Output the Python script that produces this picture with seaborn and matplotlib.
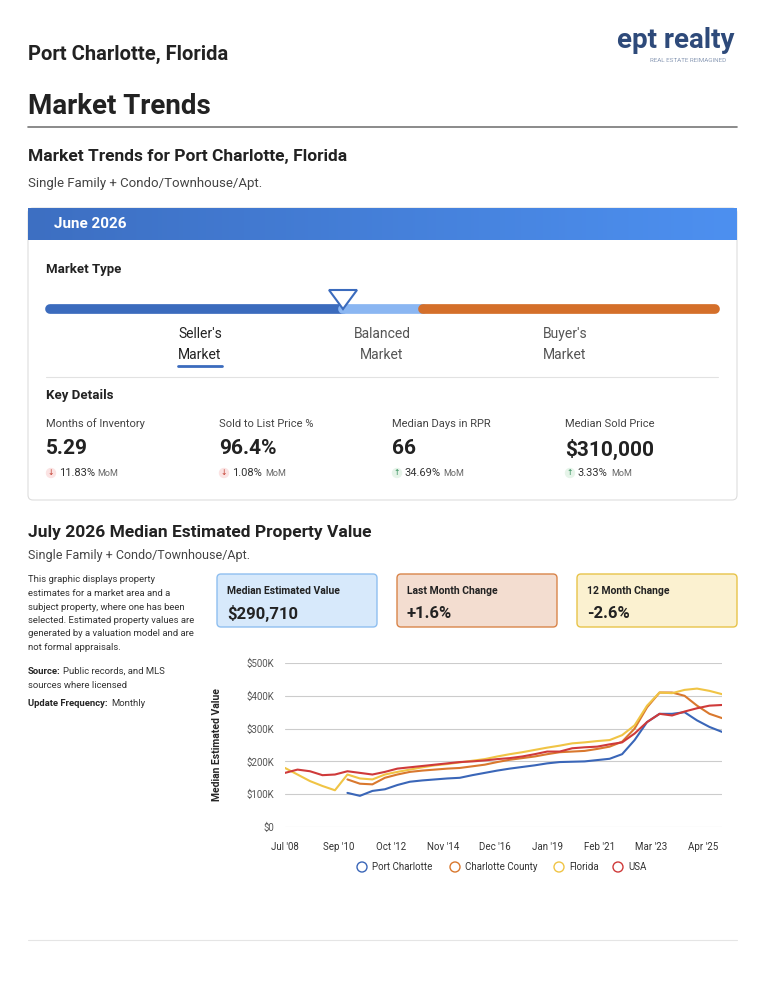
import numpy as np
import pandas as pd
import matplotlib
matplotlib.use("Agg")
import matplotlib.pyplot as plt
import seaborn as sns
from matplotlib.patches import FancyBboxPatch, Rectangle, Polygon
from matplotlib.colors import LinearSegmentedColormap

sns.set_theme(style="white")
plt.rcParams['font.family'] = ['Roboto', 'DejaVu Sans']

months = list(range(0, 211, 6))
nan = np.nan
usa = [165, 175, 170, 158, 160, 170, 165, 160, 168, 178, 182, 186, 190, 194, 198, 200, 203, 207,
       210, 215, 222, 230, 230, 240, 243, 245, 252, 258, 285, 320, 345, 340, 352, 362, 370, 372]
florida = [180, 160, 140, 125, 112, 160, 148, 145, 160, 168, 175, 182, 188, 192, 197, 202, 207, 215,
           222, 228, 235, 242, 248, 255, 258, 262, 265, 280, 310, 370, 410, 408, 418, 422, 415, 405]
county = [nan, nan, nan, nan, nan, 145, 132, 130, 150, 160, 168, 172, 175, 178, 180, 185, 190, 198,
          205, 210, 215, 222, 228, 230, 232, 238, 245, 260, 300, 365, 410, 410, 400, 370, 345, 332]
port = [nan, nan, nan, nan, nan, 104, 95, 110, 115, 128, 138, 142, 145, 148, 150, 158, 165, 172,
        178, 183, 188, 194, 198, 199, 200, 204, 208, 222, 265, 320, 345, 345, 350, 325, 305, 290]
series_names = ["Port Charlotte", "Charlotte County", "Florida", "USA"]
colors = ["#3a66b8", "#d9782e", "#f0c445", "#cf3a3a"]
tick_months = [0, 26, 51, 76, 101, 126, 151, 176, 201]
tick_labels = ["Jul '08", "Sep '10", "Oct '12", "Nov '14", "Dec '16", "Jan '19", "Feb '21", "Mar '23", "Apr '25"]

df = pd.concat([pd.DataFrame({"month": months, "value": np.array(v, dtype=float) * 1000, "series": n})
                for n, v in zip(series_names, [port, county, florida, usa])], ignore_index=True)

W, H = 765, 990
fig = plt.figure(figsize=(7.65, 9.9), dpi=100)
bg = fig.add_axes([0, 0, 1, 1])
bg.set_xlim(0, W); bg.set_ylim(H, 0); bg.axis("off")

def T(x, y, s, size, color="#222222", weight="normal", ha="left", va="center"):
    bg.text(x, y, s, fontsize=size, color=color, fontweight=weight, ha=ha, va=va)

T(28, 54, "Port Charlotte, Florida", 14.5, weight="bold")
T(735, 40, "ept realty", 20, color="#2e4a7a", weight="bold", ha="right")
T(726, 60, "REAL ESTATE REIMAGINED", 4.5, color="#8a9ab5", ha="right")
T(28, 106, "Market Trends", 20, weight="bold")
bg.plot([28, 737], [127, 127], color="#777777", lw=1.2)
T(28, 156, "Market Trends for Port Charlotte, Florida", 12.5, weight="bold")
T(28, 184, "Single Family + Condo/Townhouse/Apt.", 9.5, color="#444444")

bg.add_patch(FancyBboxPatch((28, 208), 709, 292, boxstyle="round,pad=0,rounding_size=5",
                            fc="white", ec="#dddddd", lw=0.8))
grad = np.linspace(0, 1, 256).reshape(1, -1)
cm = LinearSegmentedColormap.from_list("g", ["#3d6fc2", "#4d90f0"])
bg.imshow(grad, extent=(28, 737, 240, 208), cmap=cm, aspect="auto", zorder=1)
bg.set_xlim(0, W); bg.set_ylim(H, 0)
T(54, 224, "June 2026", 11, color="white", weight="bold")
T(46, 269, "Market Type", 9.5, weight="bold")
bg.plot([50, 343], [309, 309], color="#3b6bbd", lw=7, solid_capstyle="round")
bg.plot([343, 423], [309, 309], color="#8ab6f2", lw=7)
bg.plot([423, 715], [309, 309], color="#d46f2a", lw=7, solid_capstyle="round")
bg.add_patch(Polygon([[329, 290], [357, 290], [343, 309]], closed=True, fc="white", ec="#3b6bbd", lw=1.5, zorder=5))
T(200, 334, "Seller's", 10, ha="center"); T(200, 355, "Market", 10, ha="center")
bg.plot([178, 222], [366, 366], color="#3b6bbd", lw=2)
T(382, 334, "Balanced", 10, color="#555555", ha="center"); T(382, 355, "Market", 10, color="#555555", ha="center")
T(565, 334, "Buyer's", 10, color="#555555", ha="center"); T(565, 355, "Market", 10, color="#555555", ha="center")
bg.plot([46, 718], [377, 377], color="#e2e2e2", lw=0.8)
T(46, 396, "Key Details", 9.5, weight="bold")
kd = [(46, "Months of Inventory", "5.29", "11.83%", False),
      (219, "Sold to List Price %", "96.4%", "1.08%", False),
      (392, "Median Days in RPR", "66", "34.69%", True),
      (565, "Median Sold Price", "$310,000", "3.33%", True)]
for x, lab, val, ch, up in kd:
    T(x, 424, lab, 8, color="#444444")
    T(x, 449, val, 15, weight="bold")
    bg.add_patch(plt.Circle((x + 5, 473), 4.5, color="#e6f4e9" if up else "#fbe3e3"))
    T(x + 5, 473, "↑" if up else "↓", 5.5, color="#2e8b57" if up else "#c0392b", ha="center")
    T(x + 13, 473, ch, 8, color="#333333")
    T(x + 13 + len(ch) * 5.6 + 5, 473, "MoM", 6.5, color="#666666")

T(28, 533, "July 2026 Median Estimated Property Value", 12.5, weight="bold")
T(28, 555, "Single Family + Condo/Townhouse/Apt.", 9, color="#444444")
desc = ["This graphic displays property", "estimates for a market area and a",
        "subject property, where one has been", "selected. Estimated property values are",
        "generated by a valuation model and are", "not formal appraisals."]
for i, l in enumerate(desc):
    T(28, 580 + i * 13.5, l, 6.8, color="#333333")
bg.text(28, 671, "Source:", fontsize=6.8, fontweight="bold", va="center")
T(63, 671, "Public records, and MLS", 6.8, color="#333333")
T(28, 685, "sources where licensed", 6.8, color="#333333")
bg.text(28, 704, "Update Frequency:", fontsize=6.8, fontweight="bold", va="center")
T(111, 704, "Monthly", 6.8, color="#333333")

boxes = [(217, "Median Estimated Value", "$290,710", "#d7e9fb", "#8fbff0"),
         (397, "Last Month Change", "+1.6%", "#f3ddd0", "#d9854a"),
         (577, "12 Month Change", "-2.6%", "#fbf1d0", "#e8c44a")]
for x, lab, val, fc, ec in boxes:
    bg.add_patch(FancyBboxPatch((x, 574), 160, 53, boxstyle="round,pad=0,rounding_size=4",
                                fc=fc, ec=ec, lw=1))
    T(x + 10, 591, lab, 7.5, weight="bold")
    T(x + 10, 613, val, 12, weight="bold")

ax = fig.add_axes([285 / W, 1 - 827 / H, 437 / W, 164 / H])
sns.lineplot(data=df, x="month", y="value", hue="series", palette=colors, hue_order=series_names,
             ax=ax, lw=1.5, legend=False)
ax.set_xlim(0, 210); ax.set_ylim(0, 500000)
ax.set_yticks([0, 100000, 200000, 300000, 400000, 500000])
ax.set_yticklabels(["$0", "$100K", "$200K", "$300K", "$400K", "$500K"], fontsize=7, color="#555555")
ax.set_xticks(tick_months)
ax.set_xticklabels(tick_labels, fontsize=7, color="#333333")
ax.tick_params(axis="y", length=0, pad=8)
ax.tick_params(axis="x", length=0, pad=11)
ax.grid(axis="y", color="#cccccc", lw=0.8)
for s in ax.spines.values():
    s.set_visible(False)
ax.set_xlabel("")
ax.set_ylabel("Median Estimated Value", fontsize=7.5, fontweight="bold")
ax.yaxis.set_label_coords(-0.145, 0.5)

lx = [362, 455, 559, 618]
for x, n, c in zip(lx, series_names, colors):
    bg.add_patch(plt.Circle((x, 867), 5, fc="none", ec=c, lw=1))
    T(x + 10, 867, n, 7, color="#333333")
bg.plot([28, 737], [940, 940], color="#e5e5e5", lw=0.8)

fig.savefig("out.png", dpi=100)
